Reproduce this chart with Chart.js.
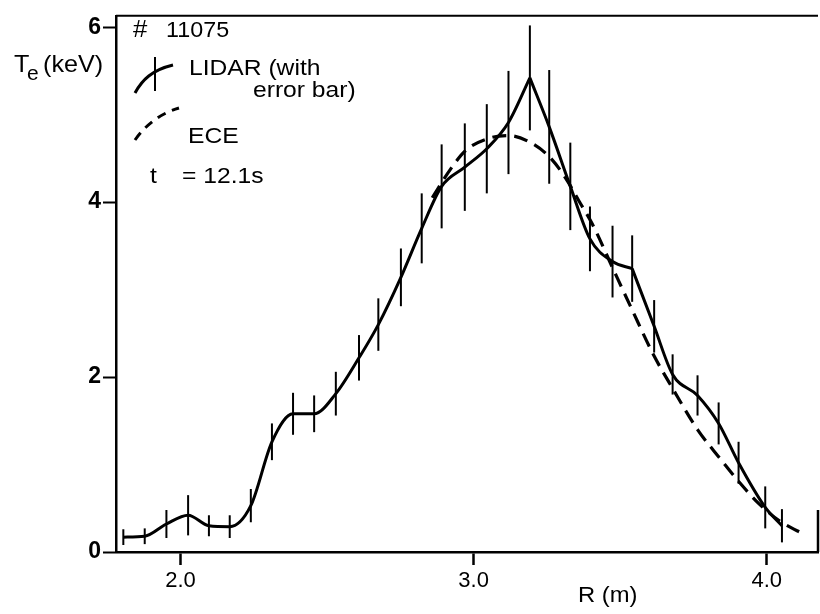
<!DOCTYPE html>
<html>
<head>
<meta charset="utf-8">
<script src="https://cdn.jsdelivr.net/npm/chart.js@4.4.1/dist/chart.umd.min.js"></script>
<style>
html, body { margin: 0; padding: 0; background: #fff; }
#wrap { width: 820px; height: 614px; }
</style>
</head>
<body>
<div id="wrap"><canvas id="chart" width="820" height="614"></canvas></div>
<script>
// LIDAR profile, shot #11075, t = 12.1 s
const rLidar = [1.805, 1.878, 1.952, 2.026, 2.097, 2.168, 2.240, 2.312, 2.384, 2.456, 2.530, 2.609, 2.675, 2.752, 2.823, 2.891,
                2.970, 3.045, 3.119, 3.192, 3.258, 3.330, 3.397, 3.474, 3.541, 3.616, 3.679, 3.764, 3.836, 3.904, 3.995, 4.052];
const teLidar = [0.17, 0.18, 0.32, 0.42, 0.30, 0.29, 0.53, 1.26, 1.58, 1.58, 1.81, 2.22, 2.60, 3.14, 3.70, 4.18,
                 4.40, 4.61, 4.91, 5.42, 4.86, 4.18, 3.58, 3.32, 3.24, 2.58, 2.03, 1.79, 1.47, 1.02, 0.51, 0.30];
const errLidar = [0.09, 0.09, 0.16, 0.23, 0.12, 0.13, 0.19, 0.21, 0.24, 0.21, 0.25, 0.26, 0.30, 0.33, 0.40, 0.48,
                  0.50, 0.51, 0.59, 0.60, 0.65, 0.50, 0.37, 0.41, 0.38, 0.30, 0.23, 0.23, 0.24, 0.24, 0.24, 0.19];
// the fitted LIDAR curve has corners at the peak and at R = 3.54
const lidarBreaks = [19, 24];

// ECE profile
const rEce = [2.859, 2.922, 2.973, 3.053, 3.121, 3.189, 3.258, 3.315, 3.360, 3.405, 3.474, 3.542, 3.616, 3.679,
              3.764, 3.838, 3.906, 3.974, 4.042, 4.134];
const teEce = [4.05, 4.38, 4.59, 4.73, 4.76, 4.69, 4.52, 4.27, 4.01, 3.75, 3.25, 2.76, 2.24, 1.87,
               1.40, 1.08, 0.80, 0.55, 0.36, 0.19];

const xTicks = [2.0, 3.0, 4.0];
const yTicks = [0, 2, 4, 6];

const FONT = '"Liberation Sans", Arial, Helvetica, sans-serif';

function txt(ctx, s, x, y, size, sx) {
    ctx.save();
    ctx.font = size + 'px ' + FONT;
    ctx.translate(x, y);
    ctx.scale(sx || 1.12, 1);
    ctx.fillText(s, 0, 0);
    ctx.restore();
}

// error bars, frame bits, legend and axis titles
const extras = {
    id: 'extras',
    afterDatasetsDraw(chart) {
        const ctx = chart.ctx;
        const xs = chart.scales.x, ys = chart.scales.y;
        const a = chart.chartArea;
        ctx.save();
        ctx.strokeStyle = '#000';
        ctx.lineWidth = 2;
        for (let i = 0; i < rLidar.length; i++) {
            const px = xs.getPixelForValue(rLidar[i]);
            ctx.beginPath();
            ctx.moveTo(px, ys.getPixelForValue(teLidar[i] - errLidar[i]));
            ctx.lineTo(px, ys.getPixelForValue(teLidar[i] + errLidar[i]));
            ctx.stroke();
        }
        // top line and short right edge
        ctx.lineWidth = 2;
        ctx.beginPath();
        ctx.moveTo(a.left, a.top);
        ctx.lineTo(a.right, a.top);
        ctx.stroke();
        ctx.lineWidth = 2.5;
        ctx.beginPath();
        ctx.moveTo(a.right, a.bottom);
        ctx.lineTo(a.right, a.bottom - 42);
        ctx.stroke();

        // legend symbols
        ctx.lineWidth = 3;
        ctx.beginPath();
        ctx.moveTo(135, 93);
        ctx.bezierCurveTo(142, 80, 152, 70, 173, 65);
        ctx.stroke();
        ctx.lineWidth = 2;
        ctx.beginPath();
        ctx.moveTo(155, 57);
        ctx.lineTo(155, 91);
        ctx.stroke();
        ctx.lineWidth = 3;
        ctx.setLineDash([9, 7]);
        ctx.beginPath();
        ctx.moveTo(135, 140);
        ctx.quadraticCurveTo(152, 116, 179, 108);
        ctx.stroke();
        ctx.setLineDash([]);

        ctx.fillStyle = '#000';
        ctx.textBaseline = 'alphabetic';
        txt(ctx, '#', 133, 37, 23);
        txt(ctx, '11075', 166, 37, 22, 1.06);
        txt(ctx, 'LIDAR (with', 189, 75, 22);
        txt(ctx, 'error bar)', 253, 97, 22);
        txt(ctx, 'ECE', 188, 143, 22);
        txt(ctx, 't', 150, 183, 22);
        txt(ctx, '= 12.1s', 182, 183, 22);

        // axis titles
        txt(ctx, 'T', 14, 72, 24, 1.05);
        txt(ctx, 'e', 27, 80, 20, 1.05);
        txt(ctx, '(keV)', 43, 72, 24, 1.05);
        txt(ctx, 'R (m)', 578, 602, 22, 1.08);
        ctx.restore();
    }
};

function lidarPiece(from, to) {
    const pts = [];
    for (let i = from; i <= to; i++) pts.push({ x: rLidar[i], y: teLidar[i] });
    return {
        label: 'LIDAR (with error bar)',
        data: pts,
        borderColor: '#000',
        borderWidth: 3,
        pointRadius: 0,
        cubicInterpolationMode: 'monotone',
        fill: false
    };
}

const edges = [0, ...lidarBreaks, rLidar.length - 1];
const lidarSets = [];
for (let k = 0; k < edges.length - 1; k++) lidarSets.push(lidarPiece(edges[k], edges[k + 1]));

new Chart(document.getElementById('chart'), {
    type: 'line',
    data: {
        datasets: [
            ...lidarSets,
            {
                label: 'ECE',
                data: rEce.map((r, i) => ({ x: r, y: teEce[i] })),
                borderColor: '#000',
                borderWidth: 3.2,
                borderDash: [14, 8],
                pointRadius: 0,
                cubicInterpolationMode: 'monotone',
                fill: false
            }
        ]
    },
    options: {
        responsive: false,
        animation: false,
        devicePixelRatio: 1,
        layout: { padding: { top: 8, right: 2, left: 0, bottom: 0 } },
        plugins: { legend: { display: false }, tooltip: { enabled: false } },
        scales: {
            x: {
                type: 'linear',
                min: 1.78,
                max: 4.175,
                afterBuildTicks: s => { s.ticks = xTicks.map(v => ({ value: v })); },
                afterFit: s => { s.height = 62; },
                ticks: {
                    callback: v => v.toFixed(1),
                    color: '#000',
                    font: { family: FONT, size: 22 },
                    padding: 3,
                    maxRotation: 0
                },
                grid: { drawOnChartArea: false, tickLength: 13, tickWidth: 2.5, tickColor: '#000' },
                border: { color: '#000', width: 2.5 }
            },
            y: {
                min: 0,
                max: 6.13,
                afterBuildTicks: s => { s.ticks = yTicks.map(v => ({ value: v })); },
                afterFit: s => { s.width = 116; },
                ticks: {
                    color: '#000',
                    font: { family: FONT, size: 23, weight: 'bold' },
                    padding: 2
                },
                grid: { drawOnChartArea: false, tickLength: 13, tickWidth: 2, tickColor: '#000' },
                border: { color: '#000', width: 2.5 }
            }
        }
    },
    plugins: [extras]
});
</script>
</body>
</html>
